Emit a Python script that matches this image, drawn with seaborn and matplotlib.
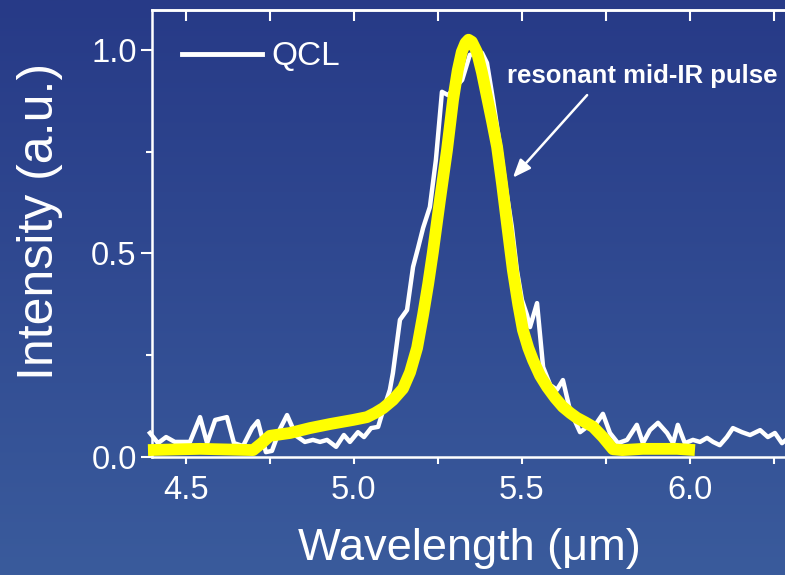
import numpy as np
import matplotlib
matplotlib.use("Agg")
import matplotlib.pyplot as plt
import seaborn as sns
from matplotlib.colors import LinearSegmentedColormap

# ---- data ----
qcl_x = [4.394, 4.418, 4.442, 4.468, 4.513, 4.543, 4.564, 4.588, 4.623, 4.644,
         4.671, 4.698, 4.715, 4.739, 4.757, 4.781, 4.802, 4.829, 4.855, 4.879,
         4.900, 4.921, 4.948, 4.971, 4.989, 5.013, 5.031, 5.052, 5.073, 5.088,
         5.108, 5.117, 5.138, 5.159, 5.177, 5.192, 5.207, 5.227, 5.245, 5.263,
         5.281, 5.323, 5.346, 5.382, 5.397, 5.415, 5.436, 5.454, 5.471, 5.486,
         5.501, 5.516, 5.525, 5.546, 5.564, 5.585, 5.605, 5.623, 5.644, 5.674,
         5.695, 5.713, 5.742, 5.763, 5.787, 5.814, 5.843, 5.861, 5.882, 5.906,
         5.933, 5.951, 5.965, 5.986, 6.010, 6.031, 6.052, 6.070, 6.090, 6.111,
         6.129, 6.156, 6.180, 6.210, 6.233, 6.254, 6.275, 6.287]
qcl_y = [0.059, 0.034, 0.049, 0.037, 0.037, 0.098, 0.034, 0.091, 0.098, 0.034,
         0.027, 0.071, 0.088, 0.012, 0.015, 0.069, 0.103, 0.052, 0.037, 0.042,
         0.037, 0.042, 0.025, 0.054, 0.037, 0.061, 0.049, 0.071, 0.074, 0.115,
         0.165, 0.206, 0.337, 0.361, 0.467, 0.514, 0.563, 0.614, 0.730, 0.897,
         0.889, 0.926, 0.988, 0.993, 0.968, 0.877, 0.762, 0.656, 0.565, 0.459,
         0.386, 0.349, 0.319, 0.378, 0.221, 0.177, 0.165, 0.189, 0.115, 0.061,
         0.074, 0.071, 0.106, 0.059, 0.034, 0.042, 0.079, 0.034, 0.066, 0.084,
         0.059, 0.034, 0.079, 0.034, 0.042, 0.037, 0.047, 0.037, 0.029, 0.049,
         0.071, 0.061, 0.054, 0.066, 0.049, 0.059, 0.034, 0.042]

pulse_x = [4.388, 4.543, 4.701, 4.725, 4.751, 4.811, 4.870, 4.930, 4.998, 5.040,
           5.064, 5.088, 5.117, 5.147, 5.168, 5.189, 5.207, 5.222, 5.236, 5.257,
           5.278, 5.296, 5.310, 5.322, 5.333, 5.342, 5.352, 5.367, 5.382, 5.397,
           5.412, 5.427, 5.442, 5.457, 5.474, 5.490, 5.504, 5.520, 5.534, 5.555,
           5.576, 5.600, 5.623, 5.645, 5.665, 5.690, 5.713, 5.742, 5.772, 5.800,
           5.861, 5.963, 6.016]
pulse_y = [0.017, 0.020, 0.017, 0.033, 0.052, 0.059, 0.071, 0.081, 0.091, 0.098,
           0.108, 0.120, 0.140, 0.168, 0.208, 0.268, 0.350, 0.425, 0.503, 0.631,
           0.754, 0.877, 0.950, 0.995, 1.017, 1.025, 1.020, 0.995, 0.945, 0.885,
           0.825, 0.762, 0.670, 0.570, 0.459, 0.375, 0.312, 0.268, 0.238, 0.200,
           0.172, 0.145, 0.123, 0.108, 0.096, 0.085, 0.074, 0.049, 0.019, 0.017,
           0.020, 0.020, 0.017]

x_major = [4.5, 5.0, 5.5, 6.0]
x_major_labels = ["4.5", "5.0", "5.5", "6.0"]
x_minor = [4.75, 5.25, 5.75, 6.25]
y_major = [0.0, 0.5, 1.0]
y_major_labels = ["0.0", "0.5", "1.0"]
y_minor = [0.25, 0.75]

legend_label = "QCL"
annot_text = "resonant mid-IR pulse"
xlabel = "Wavelength (\u03bcm)"
ylabel = "Intensity (a.u.)"

# ---- figure ----
plt.rcParams["font.family"] = ["Liberation Sans", "DejaVu Sans"]
W, H = 785, 575
fig = plt.figure(figsize=(W / 100, H / 100), dpi=100)

bg = fig.add_axes([0, 0, 1, 1], zorder=0)
bg.axis("off")
cmap = LinearSegmentedColormap.from_list("bg", ["#273a87", "#3a5b9c"])
bg.imshow(np.linspace(0, 1, 256).reshape(-1, 1), aspect="auto", cmap=cmap,
          extent=[0, 1, 0, 1])

ax = fig.add_axes([152 / W, 1 - 457 / H, 633 / W, 447 / H], zorder=1)
ax.patch.set_alpha(0)

sns.lineplot(x=qcl_x, y=qcl_y, ax=ax, color="white", lw=3.2, sort=False,
             estimator=None, label=legend_label, clip_on=False, zorder=3)
sns.lineplot(x=pulse_x, y=pulse_y, ax=ax, color="#ffff00", lw=8.5, sort=False,
             estimator=None, clip_on=False, zorder=4,
             solid_capstyle="butt", solid_joinstyle="round")

ax.set_xlim(4.4, 6.284)
ax.set_ylim(0, 1.098)

for s in ["left", "bottom", "top"]:
    ax.spines[s].set_color("white")
    ax.spines[s].set_linewidth(1.8)
ax.spines["right"].set_visible(False)

ax.set_xticks(x_major)
ax.set_xticklabels(x_major_labels)
ax.set_xticks(x_minor, minor=True)
ax.set_yticks(y_major)
ax.set_yticklabels(y_major_labels)
ax.set_yticks(y_minor, minor=True)

ax.tick_params(axis="x", which="both", direction="out", length=5, width=1.5,
               color="white", labelcolor="white", labelsize=23.5, pad=8,
               top=False)
ax.tick_params(axis="y", which="major", direction="out", length=8, width=1.5,
               color="white", labelcolor="white", labelsize=23.5, pad=3,
               right=False)
ax.tick_params(axis="y", which="minor", direction="out", length=4, width=1.5,
               color="white", right=False)

sec = ax.secondary_xaxis("top")
sec.set_xticks(sorted(x_major + x_minor))
sec.set_xticklabels([])
sec.tick_params(direction="in", length=8, width=1.5, color="white")
sec.spines["top"].set_color("white")
sec.spines["top"].set_linewidth(1.8)

ax.set_xlabel(xlabel, fontsize=32.5, color="white")
ax.xaxis.set_label_coords(0.502, -0.158)
ax.set_ylabel(ylabel, fontsize=36, color="white")
ax.yaxis.set_label_coords(-0.140, 0.527)

leg = ax.legend(loc="center left", bbox_to_anchor=(0.047, 0.895), frameon=False,
                fontsize=24, handlelength=2.4, handletextpad=0.3, borderpad=0,
                borderaxespad=0)
for t in leg.get_texts():
    t.set_color("white")
for h in leg.get_lines():
    h.set_linewidth(3.5)

ax.text(5.457, 0.919, annot_text, fontsize=18.5, fontweight="bold",
        color="white", ha="left", va="baseline", zorder=5)
ax.annotate("", xy=(5.474, 0.686), xytext=(5.695, 0.889),
            arrowprops=dict(arrowstyle="-|>,head_length=0.55,head_width=0.22",
                            color="white", lw=1.8, shrinkA=0, shrinkB=0,
                            mutation_scale=20), zorder=5)

fig.savefig("out.png", dpi=100)
